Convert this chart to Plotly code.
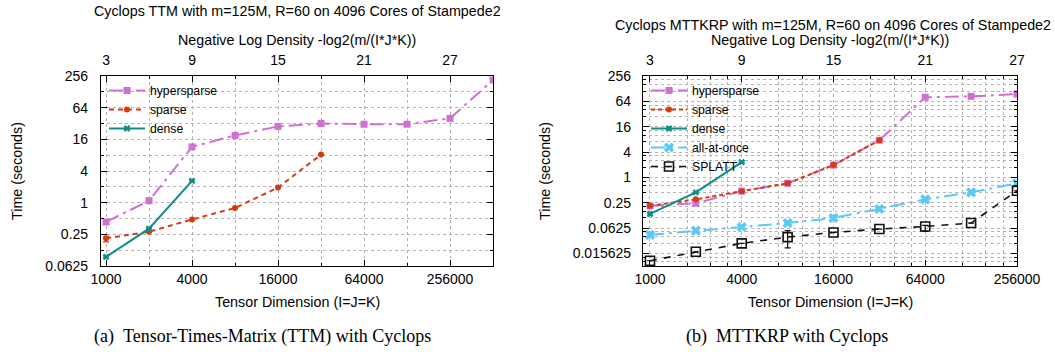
import math
import plotly.graph_objects as go

# ---------------- data ----------------
M_NNZ = 125e6  # m = 125M nonzeros

ttm_dims = [1000, 2000, 4000, 8000, 16000, 32000, 64000, 128000, 256000, 512000]
ttm_hypersparse = [0.43, 1.09, 11.5, 19.0, 28.2, 32.0, 31.0, 31.0, 40.0, 215.0]
ttm_sparse = [0.21, 0.28, 0.48, 0.79, 1.94, 8.2]
ttm_sparse_err_plus = [0.02, 0.0, 0.0, 0.0, 0.0, 0.0]
ttm_sparse_err_minus = [0.03, 0.0, 0.0, 0.0, 0.0, 0.0]
ttm_dense = [0.093, 0.32, 2.6]

mttkrp_dims = [1000, 2000, 4000, 8000, 16000, 32000, 64000, 128000, 256000]
mttkrp_hypersparse = [0.21, 0.242, 0.47, 0.72, 1.96, 7.6, 80.0, 84.0, 95.0]
mttkrp_sparse = [0.21, 0.30, 0.47, 0.72, 1.96, 7.6]
mttkrp_dense = [0.135, 0.44, 2.3]
mttkrp_allatonce = [0.043, 0.054, 0.066, 0.082, 0.108, 0.177, 0.30, 0.44, 0.72]
splatt = [0.0104, 0.017, 0.027, 0.038, 0.049, 0.059, 0.068, 0.082, 0.48]
splatt_err_plus = [0.0, 0.0, 0.0, 0.016, 0.0, 0.0, 0.004, 0.0, 0.0]
splatt_err_minus = [0.0, 0.0, 0.0, 0.017, 0.0, 0.0, 0.016, 0.0, 0.0]

x_tick_vals = [1000, 4000, 16000, 64000, 256000]
density_ticks = [3, 9, 15, 21, 27]
ttm_y_ticks = [0.0625, 0.25, 1, 4, 16, 64, 256]
ttm_y_labels = ["0.0625", "0.25", "1", "4", "16", "64", "256"]
mttkrp_y_ticks = [0.015625, 0.0625, 0.25, 1, 4, 16, 64, 256]
mttkrp_y_labels = ["0.015625", "0.0625", "0.25", "1", "4", "16", "64", "256"]

# ---------------- style ----------------
W, H = 1055, 352
FONT = "Liberation Sans"
FS_TICK = 14
FS_TXT = 14.3
FS_LEG = 12.2
C_HYPER = "#d070d0"
C_SPARSE = "#d83a10"
C_DENSE = "#0f8c8c"
C_AAO = "#5cc8f5"
C_SPLATT = "#111111"
GRID = "#b4b4b4"
DASHDOT = "14px,5px,3px,5px"

def px_x(p):
    return p / W

def px_y(p):
    return 1 - p / H

# density (top axis) -> tensor dimension
density_dims = [(M_NNZ * 2 ** d) ** (1.0 / 3.0) for d in density_ticks]

fig = go.Figure()

def errs(plus, minus, color):
    return dict(type="data", array=plus, arrayminus=minus, visible=True,
                width=3, thickness=1.2, color=color)

def zero_err(n, color):
    return errs([0.0] * n, [0.0] * n, color)

# ----- left panel: TTM -----
fig.add_trace(go.Scatter(
    x=ttm_dims, y=ttm_hypersparse, name="hypersparse", mode="lines+markers",
    line=dict(color=C_HYPER, width=2, dash=DASHDOT),
    marker=dict(symbol="square", size=7, color=C_HYPER),
    error_y=zero_err(len(ttm_hypersparse), C_HYPER),
    xaxis="x", yaxis="y", legend="legend"))
fig.add_trace(go.Scatter(
    x=ttm_dims[:len(ttm_sparse)], y=ttm_sparse, name="sparse", mode="lines+markers",
    line=dict(color=C_SPARSE, width=2, dash="5px,4px"),
    marker=dict(symbol="circle", size=6, color=C_SPARSE),
    error_y=errs(ttm_sparse_err_plus, ttm_sparse_err_minus, C_SPARSE),
    xaxis="x", yaxis="y", legend="legend"))
fig.add_trace(go.Scatter(
    x=ttm_dims[:len(ttm_dense)], y=ttm_dense, name="dense", mode="lines+markers",
    line=dict(color=C_DENSE, width=2),
    marker=dict(symbol="x", size=6, color=C_DENSE),
    error_y=zero_err(len(ttm_dense), C_DENSE),
    xaxis="x", yaxis="y", legend="legend"))

# ----- right panel: MTTKRP -----
fig.add_trace(go.Scatter(
    x=mttkrp_dims, y=mttkrp_hypersparse, name="hypersparse", mode="lines+markers",
    line=dict(color=C_HYPER, width=2, dash=DASHDOT),
    marker=dict(symbol="square", size=7, color=C_HYPER),
    error_y=zero_err(len(mttkrp_hypersparse), C_HYPER),
    xaxis="x2", yaxis="y2", legend="legend2"))
fig.add_trace(go.Scatter(
    x=mttkrp_dims[:len(mttkrp_sparse)], y=mttkrp_sparse, name="sparse", mode="lines+markers",
    line=dict(color=C_SPARSE, width=2, dash="4px,3px"),
    marker=dict(symbol="circle", size=6, color=C_SPARSE),
    error_y=zero_err(len(mttkrp_sparse), C_SPARSE),
    xaxis="x2", yaxis="y2", legend="legend2"))
fig.add_trace(go.Scatter(
    x=mttkrp_dims[:len(mttkrp_dense)], y=mttkrp_dense, name="dense", mode="lines+markers",
    line=dict(color=C_DENSE, width=2),
    marker=dict(symbol="x", size=6, color=C_DENSE),
    error_y=zero_err(len(mttkrp_dense), C_DENSE),
    xaxis="x2", yaxis="y2", legend="legend2"))
fig.add_trace(go.Scatter(
    x=mttkrp_dims, y=mttkrp_allatonce, name="all-at-once", mode="lines+markers",
    line=dict(color=C_AAO, width=2, dash=DASHDOT),
    marker=dict(symbol="x", size=9, color=C_AAO),
    error_y=zero_err(len(mttkrp_allatonce), C_AAO),
    xaxis="x2", yaxis="y2", legend="legend2"))
fig.add_trace(go.Scatter(
    x=mttkrp_dims, y=splatt, name="SPLATT", mode="lines+markers",
    line=dict(color=C_SPLATT, width=1.6, dash="7px,7px"),
    marker=dict(symbol="square-open", size=9, color=C_SPLATT, line=dict(width=1.6)),
    error_y=errs(splatt_err_plus, splatt_err_minus, C_SPLATT),
    xaxis="x2", yaxis="y2", legend="legend2"))

# invisible anchors for the top (density) axes
fig.add_trace(go.Scatter(x=density_dims, y=[1] * len(density_dims), mode="markers",
                         marker=dict(opacity=0), showlegend=False, hoverinfo="skip",
                         xaxis="x3", yaxis="y"))
fig.add_trace(go.Scatter(x=density_dims, y=[1] * len(density_dims), mode="markers",
                         marker=dict(opacity=0), showlegend=False, hoverinfo="skip",
                         xaxis="x4", yaxis="y2"))

# ---------------- axes ----------------
ttm_x_minor = [2000, 8000, 32000, 128000]
ttm_y_minor = [0.125, 0.5, 2, 8, 32, 128]
mttkrp_x_minor = [v * f for v in [1000, 4000, 16000, 64000] for f in (1.75, 2.5, 3.25)]
mttkrp_y_minor = [v * f for v in [2 ** -8] + mttkrp_y_ticks[:-1] for f in (1.75, 2.5, 3.25)]
mttkrp_y_minor = [v for v in mttkrp_y_minor if v > 2 ** -7]

tickfont = dict(family=FONT, size=FS_TICK, color="black")

def base_axis(**kw):
    d = dict(type="log", ticks="inside", ticklen=6, tickwidth=1, tickcolor="black",
             showline=True, linecolor="black", linewidth=1.2, zeroline=False,
             tickfont=tickfont, showgrid=True, gridcolor=GRID, griddash="dot",
             gridwidth=1, automargin=False, ticklabelstandoff=4)
    d.update(kw)
    return d

def minor(vals, grid=True):
    return dict(tickmode="array", tickvals=vals, ticks="inside", ticklen=3,
                tickcolor="black", showgrid=grid, gridcolor=GRID, griddash="dot",
                gridwidth=1)

L_DOM = [px_x(101), px_x(493)]
R_DOM = [px_x(643), px_x(1017)]
Y_DOM = [px_y(266), px_y(76)]

ttm_xrange = [math.log10(922), math.log10(512000)]
mttkrp_xrange = [math.log10(900), math.log10(256000)]

fig.update_layout(
    template="none",
    xaxis=base_axis(domain=L_DOM, anchor="y", range=ttm_xrange,
                    tickmode="array", tickvals=x_tick_vals,
                    ticktext=[str(v) for v in x_tick_vals], minor=minor(ttm_x_minor),
                    ticklabelstandoff=0),
    xaxis3=base_axis(overlaying="x", side="top", anchor="y", range=ttm_xrange,
                     tickmode="array", tickvals=density_dims,
                     ticktext=[str(d) for d in density_ticks], showgrid=False,
                     minor=minor(ttm_x_minor, grid=False)),
    yaxis=base_axis(domain=Y_DOM, anchor="x", range=[math.log10(0.0625), math.log10(256)],
                    tickmode="array", tickvals=ttm_y_ticks, ticktext=ttm_y_labels,
                    mirror="ticks", minor=minor(ttm_y_minor), ticklabelstandoff=9),
    xaxis2=base_axis(domain=R_DOM, anchor="y2", range=mttkrp_xrange,
                     tickmode="array", tickvals=x_tick_vals,
                     ticktext=[str(v) for v in x_tick_vals], minor=minor(mttkrp_x_minor),
                     ticklabelstandoff=0),
    xaxis4=base_axis(overlaying="x2", side="top", anchor="y2", range=mttkrp_xrange,
                     tickmode="array", tickvals=density_dims,
                     ticktext=[str(d) for d in density_ticks], showgrid=False,
                     minor=minor(mttkrp_x_minor, grid=False)),
    yaxis2=base_axis(domain=Y_DOM, anchor="x2", range=[math.log10(2 ** -7), math.log10(256)],
                     tickmode="array", tickvals=mttkrp_y_ticks, ticktext=mttkrp_y_labels,
                     mirror="ticks", minor=minor(mttkrp_y_minor), ticklabelstandoff=8),
)

legend_common = dict(font=dict(family=FONT, size=FS_LEG, color="black"),
                     bgcolor="rgba(255,255,255,0)", borderwidth=0,
                     xanchor="left", yanchor="top", tracegroupgap=0,
                     itemwidth=36)
fig.update_layout(
    legend=dict(legend_common, x=px_x(104), y=px_y(76)),
    legend2=dict(legend_common, x=px_x(646), y=px_y(76)),
)

# ---------------- text ----------------
ann = []
def text(x, y, s, size=FS_TXT, family=FONT, xanchor="center", angle=0):
    ann.append(dict(x=px_x(x), y=px_y(y), xref="paper", yref="paper", text=s,
                    showarrow=False, xanchor=xanchor, yanchor="middle", textangle=angle,
                    font=dict(family=family, size=size, color="black")))

text(297, 11, "Cyclops TTM with m=125M, R=60 on 4096 Cores of Stampede2")
text(297, 40, "Negative Log Density -log2(m/(I*J*K))")
text(297, 302, "Tensor Dimension (I=J=K)")
text(17, 171, "Time (seconds)", angle=-90)
text(262, 336, "(a)\u00a0\u00a0Tensor-Times-Matrix (TTM) with Cyclops", size=18,
     family="Liberation Serif")

text(1053, 25, "Cyclops MTTKRP with m=125M, R=60 on 4096 Cores of Stampede2",
     xanchor="right", size=14.3)
text(830, 40, "Negative Log Density -log2(m/(I*J*K))")
text(830, 302, "Tensor Dimension (I=J=K)")
text(545, 171, "Time (seconds)", angle=-90)
text(787, 336, "(b)\u00a0\u00a0MTTKRP with Cyclops", size=18, family="Liberation Serif")

fig.update_layout(
    annotations=ann,
    width=W, height=H,
    margin=dict(l=0, r=0, t=0, b=0, pad=0),
    paper_bgcolor="white", plot_bgcolor="white",
    font=dict(family=FONT, size=FS_TICK, color="black"),
    showlegend=True,
)

fig.write_html("out.html", config={"displayModeBar": False},
               post_script="document.body.style.margin='0px';document.body.style.overflow='hidden';")
